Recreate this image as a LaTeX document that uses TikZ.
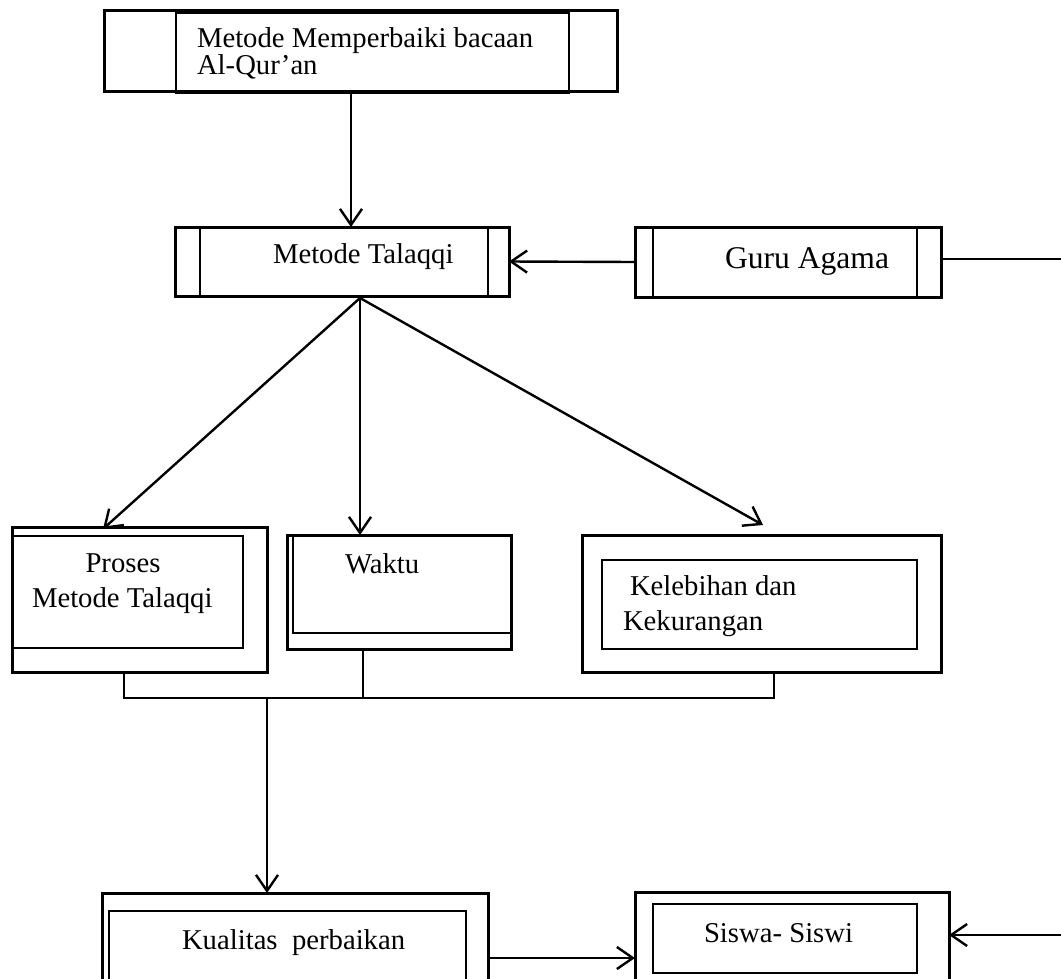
\documentclass[tikz,border=0pt]{standalone}
\usepackage{fontspec}
\setmainfont{Liberation Serif}
\usetikzlibrary{arrows.meta,calc}
\tikzset{
  outer/.style={draw, line width=3pt, inner sep=0pt, outer sep=0pt, anchor=north west},
  thin/.style={line width=1.6pt},
  conn/.style={line width=2.4pt},
  arr/.style={line width=2.4pt, -{Straight Barb[length=16pt,width=22pt,line width=2.4pt]}},
  txt/.style={font=\fontsize{28.7}{34}\selectfont, inner sep=0pt, outer sep=0pt},
  txtbig/.style={font=\fontsize{31.6}{36}\selectfont, inner sep=0pt, outer sep=0pt}
}
\begin{document}
\begin{tikzpicture}[x=1pt,y=-1pt]
\useasboundingbox (0,0) rectangle (1061,978);
\clip (0,0) rectangle (1061,978);
% top box
\node[outer, minimum width=513pt, minimum height=81pt] (top) at (104,10) {};
\draw[thin] (176,13) rectangle (569,93);
\node[txt, anchor=base west] (t1a) at (197,47) {Metode Memperbaiki bacaan};
\node[txt, anchor=base west] (t1b) at (197,74) {Al-Qur’an};
% Metode Talaqqi
\node[outer, minimum width=334pt, minimum height=69pt] (tal) at (175,227) {};
\draw[thin] (200,227) -- (200,296) (488,227) -- (488,296);
\node[txt, anchor=base west] (t2) at (273,263) {Metode Talaqqi};
% Guru Agama
\node[outer, minimum width=306pt, minimum height=70pt] (guru) at (635,227) {};
\draw[thin] (653,227) -- (653,297) (917,227) -- (917,297);
\node[txtbig, anchor=base west] (t3) at (725,268) {Guru Agama};
% Proses
\node[outer, minimum width=255pt, minimum height=145pt] (proses) at (12,527) {};
\draw[thin] (12,536) rectangle (243,648);
\node[txt, anchor=base] (t4a) at (123,572) {Proses};
\node[txt, anchor=base west] (t4b) at (32,607) {Metode Talaqqi};
% Waktu
\node[outer, minimum width=224pt, minimum height=114pt] (waktu) at (287,535) {};
\draw[thin] (293,535) -- (293,633) -- (511,633);
\node[txt, anchor=base west] (t5) at (345,573) {Waktu};
% Kelebihan
\node[outer, minimum width=359pt, minimum height=137pt] (kel) at (582,535) {};
\draw[thin] (602,560) rectangle (917,649);
\node[txt, anchor=base west] (t6a) at (630,595) {Kelebihan dan};
\node[txt, anchor=base west] (t6b) at (623,630) {Kekurangan};
% Kualitas
\node[outer, minimum width=386pt, minimum height=130pt] (kual) at (102,893) {};
\draw[thin] (109,1010) -- (109,911) -- (466,911) -- (466,1010);
\node[txt, anchor=base west] (t7) at (182,949) {Kualitas\ \ perbaikan};
% Siswa
\node[outer, minimum width=314pt, minimum height=120pt] (siswa) at (635,892) {};
\draw[thin] (653,904) rectangle (917,973);
\node[txt, anchor=base west] (t8) at (704,942) {Siswa- Siswi};
% connectors
\coordinate (x1) at (351,0);
\draw[arr] (top.south -| x1) -- (tal.north -| x1);
\draw[arr] (guru.west) -- (tal.east);
\coordinate (edgeR1) at (1061,259);
\draw[conn] (guru.east |- edgeR1) -- (edgeR1);
\coordinate (fan) at (360,298);
\draw[arr] (fan) -- ($(proses.north west)+(91,2)$);
\draw[arr] (fan) -- (waktu.north -| fan);
\draw[arr] (fan) -- ($(kel.north west)+(181,-10)$);
\coordinate (busL) at (124,698);
\coordinate (busW) at (363,698);
\coordinate (busR) at (774,698);
\coordinate (busM) at (267,698);
\draw[conn] (proses.south -| busL) -- (busL) -- (busR) -- (kel.south -| busR);
\draw[conn] (waktu.south -| busW) -- (busW);
\draw[arr] (busM) -- (kual.north -| busM);
\coordinate (yk) at (0,958);
\draw[arr] (kual.east |- yk) -- (siswa.west |- yk);
\coordinate (edgeR2) at (1061,935);
\draw[arr] (edgeR2) -- (siswa.east |- edgeR2);
\end{tikzpicture}
\end{document}
